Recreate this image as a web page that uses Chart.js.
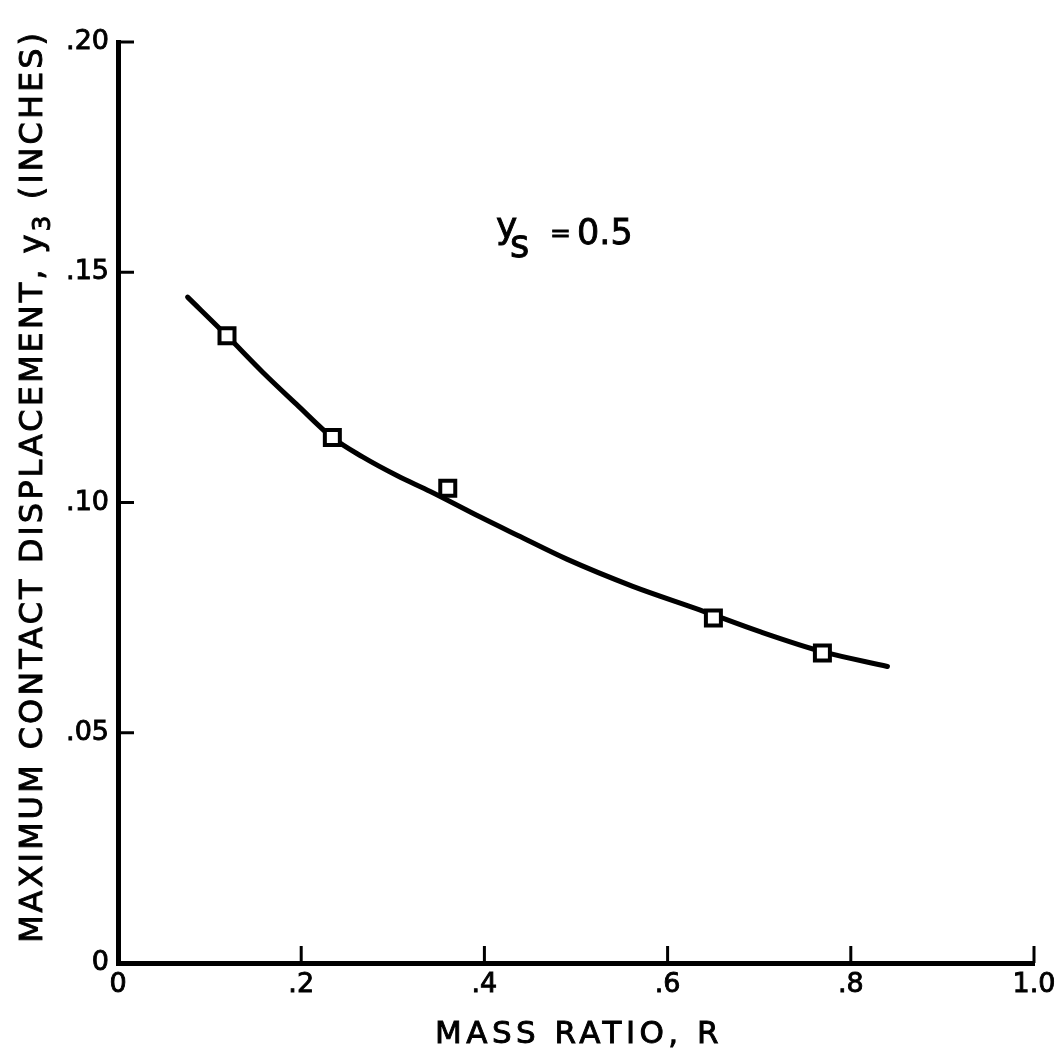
<!DOCTYPE html>
<html>
<head>
<meta charset="utf-8">
<script src="https://cdn.jsdelivr.net/npm/chart.js@4"></script>
<style>
    html, body { margin: 0; padding: 0; background: #fff; }
    canvas { display: block; }
</style>
</head>
<body>
<canvas id="massRatioChart" width="1064" height="1056"></canvas>
<script>
// measured points (squares)
const massRatio = [0.119, 0.234, 0.360, 0.650, 0.769];
const displacement = [0.1362, 0.1141, 0.1031, 0.0749, 0.0673];

// faired curve
const curveR = [0.076, 0.119, 0.158, 0.195, 0.234, 0.267, 0.305, 0.341, 0.395, 0.436, 0.490, 0.562, 0.635, 0.700, 0.769, 0.840];
const curveY = [0.1446, 0.1362, 0.1283, 0.1213, 0.1141, 0.1099, 0.1058, 0.1024, 0.0969, 0.0929, 0.0877, 0.0818, 0.0767, 0.0720, 0.0676, 0.0644];

const xTickLabels = ['0', '.2', '.4', '.6', '.8', '1.0'];
const yTickLabels = ['0', '.05', '.10', '.15', '.20'];

const FONT = '"DejaVu Sans", "Liberation Sans", sans-serif';
const INK = 0.9; // extra stroke so the lettering looks as heavy as the original

// draws a run of text pieces so the whole thing spans a given width
function drawSpacedText(ctx, pieces, targetWidth) {
    let raw = 0, count = 0;
    pieces.forEach(p => {
        ctx.font = p.size + 'px ' + FONT;
        ctx.letterSpacing = '0px';
        raw += ctx.measureText(p.text).width;
        count += p.text.length;
    });
    const spacing = (targetWidth - raw) / count;
    let x = 0;
    pieces.forEach(p => {
        ctx.font = p.size + 'px ' + FONT;
        ctx.letterSpacing = spacing + 'px';
        ctx.fillText(p.text, x, p.dy || 0);
        ctx.strokeText(p.text, x, p.dy || 0);
        x += ctx.measureText(p.text).width;
    });
    ctx.letterSpacing = '0px';
}

function heavyText(ctx, text, x, y) {
    ctx.fillText(text, x, y);
    ctx.strokeText(text, x, y);
}

const axisDecor = {
    id: 'axisDecor',
    afterDatasetsDraw(chart) {
        const ctx = chart.ctx;
        const xs = chart.scales.x;
        const ys = chart.scales.y;
        const area = chart.chartArea;
        ctx.save();
        ctx.strokeStyle = '#000';
        ctx.lineWidth = 3;
        ctx.lineCap = 'butt';
        // inward tick marks
        xs.ticks.forEach(t => {
            if (t.value === 0) return;
            const px = xs.getPixelForValue(t.value);
            ctx.beginPath();
            ctx.moveTo(px, area.bottom);
            ctx.lineTo(px, area.bottom - 17);
            ctx.stroke();
        });
        ys.ticks.forEach(t => {
            if (t.value === 0) return;
            const py = ys.getPixelForValue(t.value);
            ctx.beginPath();
            ctx.moveTo(area.left, py);
            ctx.lineTo(area.left + 16, py);
            ctx.stroke();
        });
        ctx.restore();
    },
    afterDraw(chart) {
        const ctx = chart.ctx;
        ctx.save();
        ctx.fillStyle = '#000';
        ctx.strokeStyle = '#000';
        ctx.lineWidth = INK;
        ctx.textAlign = 'left';
        ctx.textBaseline = 'alphabetic';

        // y axis title
        ctx.save();
        ctx.translate(42, 943);
        ctx.rotate(-Math.PI / 2);
        drawSpacedText(ctx, [
            { text: 'MAXIMUM CONTACT DISPLACEMENT, y', size: 32 },
            { text: '3', size: 25, dy: 8 },
            { text: ' (INCHES)', size: 32 }
        ], 913);
        ctx.restore();

        // x axis title
        ctx.save();
        ctx.translate(435, 1043);
        drawSpacedText(ctx, [{ text: 'MASS RATIO, R', size: 31 }], 288);
        ctx.restore();

        // parameter note
        ctx.font = '36px ' + FONT;
        heavyText(ctx, 'y', 496, 238);
        ctx.font = '37px ' + FONT;
        heavyText(ctx, 's', 510, 257);
        ctx.font = '25px ' + FONT;
        heavyText(ctx, '=', 550, 241);
        ctx.font = '35px ' + FONT;
        heavyText(ctx, '0.5', 577, 244);
        ctx.restore();
    }
};

const ctx = document.getElementById('massRatioChart').getContext('2d');

new Chart(ctx, {
    type: 'scatter',
    data: {
        datasets: [
            {
                label: 'measured',
                data: massRatio.map((r, i) => ({ x: r, y: displacement[i] })),
                pointStyle: 'rect',
                pointRadius: 10.6,
                pointBorderWidth: 4,
                pointBackgroundColor: '#fff',
                pointBorderColor: '#000',
                showLine: false,
                order: 0
            },
            {
                label: 'curve',
                data: curveR.map((r, i) => ({ x: r, y: curveY[i] })),
                showLine: true,
                pointRadius: 0,
                borderColor: '#000',
                borderWidth: 5,
                borderCapStyle: 'round',
                cubicInterpolationMode: 'monotone',
                order: 1
            }
        ]
    },
    options: {
        responsive: false,
        animation: false,
        layout: {
            padding: { top: 42, right: 30, left: 0, bottom: 0 }
        },
        plugins: {
            legend: { display: false },
            tooltip: { enabled: false }
        },
        scales: {
            x: {
                type: 'linear',
                min: 0,
                max: 1,
                afterFit: s => { s.height = 93; },
                grid: { display: false, drawTicks: false },
                border: { display: true, color: '#000', width: 5 },
                ticks: {
                    stepSize: 0.2,
                    padding: 6,
                    color: '#000',
                    textStrokeColor: '#000',
                    textStrokeWidth: INK,
                    font: { family: FONT, size: 27 },
                    callback: (v, i) => xTickLabels[i]
                }
            },
            y: {
                type: 'linear',
                min: 0,
                max: 0.2,
                afterFit: s => { s.width = 118; },
                grid: { display: false, drawTicks: false },
                border: { display: true, color: '#000', width: 5 },
                ticks: {
                    stepSize: 0.05,
                    padding: 9,
                    color: '#000',
                    textStrokeColor: '#000',
                    textStrokeWidth: INK,
                    font: { family: FONT, size: 27 },
                    callback: (v, i) => yTickLabels[i]
                }
            }
        }
    },
    plugins: [axisDecor]
});
</script>
</body>
</html>
